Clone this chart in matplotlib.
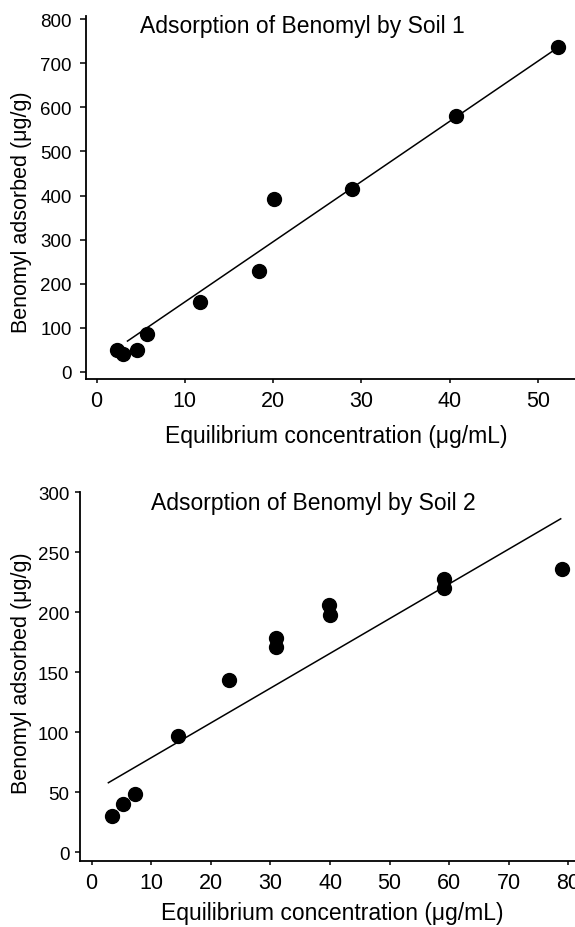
import matplotlib
matplotlib.use('Agg')
import matplotlib.pyplot as plt

plt.rcParams['font.family'] = ['Liberation Sans', 'DejaVu Sans']

# Soil 1: equilibrium concentration (ug/mL) vs benomyl adsorbed (ug/g)
soil1_conc = [2.3, 3.0, 4.6, 5.7, 11.7, 18.4, 20.1, 28.9, 40.7, 52.3]
soil1_ads = [50, 41, 50, 86, 159, 229, 392, 415, 580, 736]
soil1_fit_x = [3.5, 52.3]
soil1_fit_y = [70, 736]

# Soil 2
soil2_conc = [3.4, 5.3, 7.3, 14.5, 23.0, 30.9, 31.0, 39.9, 40.0, 59.2, 59.2, 78.9]
soil2_ads = [30, 40, 49, 97, 144, 179, 171, 206, 198, 228, 220, 236]
soil2_fit_x = [2.8, 78.7]
soil2_fit_y = [58, 278]

soil1_xticks = [0, 10, 20, 30, 40, 50]
soil1_yticks = [0, 100, 200, 300, 400, 500, 600, 700, 800]
soil2_xticks = [0, 10, 20, 30, 40, 50, 60, 70, 80]
soil2_yticks = [0, 50, 100, 150, 200, 250, 300]

W, H = 575, 928
fig = plt.figure(figsize=(W / 100, H / 100), dpi=100)


def px(x, y):
    return x / W, 1 - y / H


def style(ax, xticks, yticks, ylen, ypad):
    for s in ['top', 'right']:
        ax.spines[s].set_visible(False)
    for s in ['left', 'bottom']:
        ax.spines[s].set_linewidth(1.3)
    ax.set_xticks(xticks)
    ax.set_yticks(yticks)
    ax.tick_params(axis='x', direction='out', length=3, width=1.1, pad=5, labelsize=15.5)
    ax.tick_params(axis='y', direction='out', length=ylen, width=1.1, pad=ypad, labelsize=13.5)


# top panel
ax1 = fig.add_axes([86 / W, 1 - 380 / H, 1 - 86 / W, (380 - 17) / H])
ax1.scatter(soil1_conc, soil1_ads, s=100, color='black', zorder=3)
ax1.plot(soil1_fit_x, soil1_fit_y, color='black', lw=1.1)
ax1.set_xlim(-1.2, 54.2)
ax1.set_ylim(-16, 807)
style(ax1, soil1_xticks, soil1_yticks, 4.3, 6)

# bottom panel
ax2 = fig.add_axes([80 / W, 1 - 861.7 / H, 1 - 80 / W, (861.7 - 493.4) / H])
ax2.scatter(soil2_conc, soil2_ads, s=100, color='black', zorder=3)
ax2.plot(soil2_fit_x, soil2_fit_y, color='black', lw=1.1)
ax2.set_xlim(-1.96, 81.1)
ax2.set_ylim(-7, 300)
style(ax2, soil2_xticks, soil2_yticks, 3.6, 4)

# titles and axis labels
fig.text(*px(302, 33), 'Adsorption of Benomyl by Soil 1', ha='center', va='baseline', fontsize=16.5)
fig.text(*px(313, 510), 'Adsorption of Benomyl by Soil 2', ha='center', va='baseline', fontsize=16.5)
fig.text(*px(336, 443), 'Equilibrium concentration (\u03bcg/mL)', ha='center', va='baseline', fontsize=16.5)
fig.text(*px(332, 920), 'Equilibrium concentration (\u03bcg/mL)', ha='center', va='baseline', fontsize=16.5)
fig.text(*px(22, 212), 'Benomyl adsorbed (\u03bcg/g)', ha='center', va='center', rotation=90, fontsize=15.5)
fig.text(*px(22, 673), 'Benomyl adsorbed (\u03bcg/g)', ha='center', va='center', rotation=90, fontsize=15.5)

fig.savefig('out.png', dpi=100)
